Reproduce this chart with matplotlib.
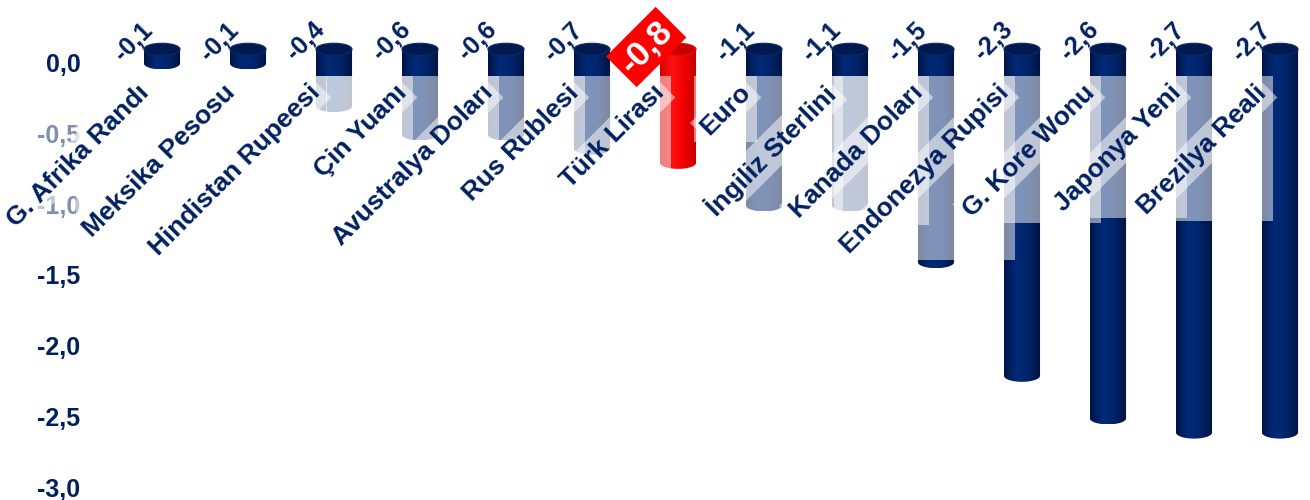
import numpy as np
import matplotlib
matplotlib.use("Agg")
import matplotlib.pyplot as plt
from matplotlib.patches import Ellipse, PathPatch, Rectangle
from matplotlib.path import Path
from matplotlib.colors import LinearSegmentedColormap

# data
currencies = ["G. Afrika Randı", "Meksika Pesosu", "Hindistan Rupeesi", "Çin Yuanı",
              "Avustralya Doları", "Rus Rublesi", "Türk Lirası", "Euro",
              "İngiliz Sterlini", "Kanada Doları", "Endonezya Rupisi",
              "G. Kore Wonu", "Japonya Yeni", "Brezilya Reali"]
changes = [-0.1, -0.1, -0.4, -0.6, -0.6, -0.7, -0.8, -1.1, -1.1, -1.5,
           -2.3, -2.6, -2.7, -2.7]
highlight = "Türk Lirası"
yticks = [0.0, -0.5, -1.0, -1.5, -2.0, -2.5, -3.0]

NAVY = "#002060"
plt.rcParams["font.family"] = ["Liberation Sans", "DejaVu Sans"]
plt.rcParams["font.weight"] = "bold"

fig = plt.figure(figsize=(13.1, 5.0), dpi=100)
ax = fig.add_axes([90 / 1310, 0, 1 - 90 / 1310, 1])

w = 0.42      # cylinder width (x units)
eh = 0.085    # ellipse height (y units)
top = 0.09    # 3d lift of the cylinder top

navy_cmap = LinearSegmentedColormap.from_list(
    "navy", ["#001548", "#002a78", "#00246a", "#00133f"])
red_cmap = LinearSegmentedColormap.from_list(
    "red", ["#d80000", "#ff1010", "#f00000", "#c00000"])
grad = np.linspace(0, 1, 64).reshape(1, -1)

for i, (name, v) in enumerate(zip(currencies, changes)):
    hl = name == highlight
    x0, x1 = i - w / 2, i + w / 2
    bot = v + top
    t = np.linspace(np.pi, 2 * np.pi, 30)
    arc = list(zip(i + w / 2 * np.cos(t), bot + eh / 2 * np.sin(t)))
    verts = [(x0, top)] + arc + [(x1, top), (x0, top)]
    codes = [Path.MOVETO] + [Path.LINETO] * (len(verts) - 2) + [Path.CLOSEPOLY]
    body = PathPatch(Path(verts, codes), facecolor="none", edgecolor="none")
    ax.add_patch(body)
    im = ax.imshow(grad, cmap=red_cmap if hl else navy_cmap, aspect="auto",
                   extent=[x0, x1, bot - eh / 2, top], zorder=2,
                   interpolation="bilinear")
    im.set_clip_path(body)
    ax.add_patch(Ellipse((i, top), w, eh, zorder=3,
                         facecolor="#c80000" if hl else "#001a50",
                         edgecolor="#e01010" if hl else "#0a2a68", lw=0.8))

ax.set_xlim(-0.837, 13.349)
ax.set_ylim(-3.085, 0.437)

# category labels: rotated boxes first, then the text on top
for i, name in enumerate(currencies):
    ax.text(i - 0.1, -0.13, name, rotation=45, ha="right", va="top",
            fontsize=19, color=(0, 0, 0, 0), zorder=5,
            bbox=dict(facecolor="white", alpha=0.5, edgecolor="none", pad=3))
labels = []
for i, name in enumerate(currencies):
    labels.append(ax.text(i - 0.1, -0.13, name, rotation=45, ha="right",
                          va="top", fontsize=19, color=NAVY, zorder=7))

fig.canvas.draw()
renderer = fig.canvas.get_renderer()
inv = ax.transData.inverted()
for txt in labels:
    bb = txt.get_window_extent(renderer)
    (ax0, ay0), (ax1, ay1) = inv.transform([[bb.x0 - 2, bb.y0 - 2],
                                            [bb.x1 + 2, bb.y1 + 4]])
    ax.add_patch(Rectangle((ax0, ay0), ax1 - ax0, ay1 - ay0, facecolor="white",
                           alpha=0.5, edgecolor="none", zorder=4, clip_on=False))

# value labels
for i, (name, v) in enumerate(zip(currencies, changes)):
    s = f"{v:.1f}".replace(".", ",")
    if name == highlight:
        ax.text(i - 0.37, 0.106, s, rotation=45, ha="center", va="center",
                fontsize=25, color="white", zorder=8,
                bbox=dict(boxstyle="square,pad=0.15", facecolor="#ff0000",
                          edgecolor="none"))
    else:
        ax.text(i - 0.33, 0.145, s, rotation=45, ha="center", va="center",
                fontsize=18, color=NAVY, zorder=8)

ax.set_yticks(yticks)
ax.set_yticklabels([f"{y:.1f}".replace(".", ",") for y in yticks])
ax.set_xticks([])
ax.tick_params(axis="y", length=0, pad=7, labelsize=18, labelcolor=NAVY)
for sp in ax.spines.values():
    sp.set_visible(False)
ax.patch.set_visible(False)

fig.savefig("out.png", dpi=100)
